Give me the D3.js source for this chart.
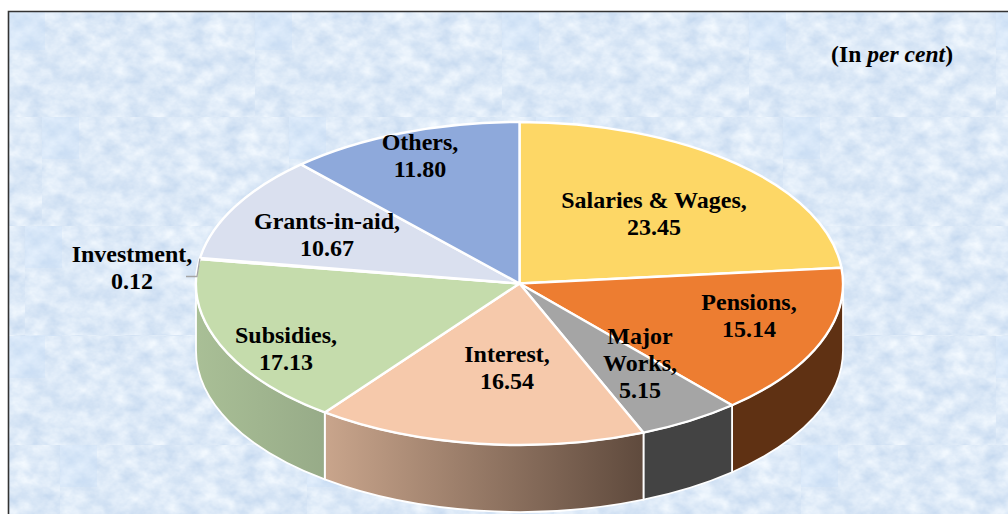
<!DOCTYPE html>
<html><head><meta charset="utf-8">
<script src="https://cdn.jsdelivr.net/npm/d3@7/dist/d3.min.js"></script>
<style>html,body{margin:0;padding:0;background:#fff;overflow:hidden}svg{display:block}
text{font-family:"Liberation Serif","Times New Roman",serif;font-weight:700;fill:#000}</style>
</head><body><svg id="c" width="1008" height="514"></svg>
<script>
// Data
const categories = ["Salaries & Wages","Pensions","Major Works","Interest","Subsidies","Investment","Grants-in-aid","Others"];
const values = [23.45,15.14,5.15,16.54,17.13,0.12,10.67,11.80];
const valueLabels = ["23.45","15.14","5.15","16.54","17.13","0.12","10.67","11.80"];
const unitNote = ["(In ","per cent",")"];
// Presentation
const faceColors = ["#fdd766","#ed7d31","#a5a5a5","#f6c9ab","#c5dcac","#a5a5a5","#dae0ef","#8ea9db"];
const wallStops = [["#5f3113","#5f3113"],["#5f3113","#5f3113"],["#434343","#434343"],["#c9a58c","#5f4a3d"],["#a9bf96","#97ab88"],["#a9bf96","#a9bf96"],["#aab","#aab"],["#67a","#67a"]];
const labelLines = [["Salaries & Wages,"],["Pensions,"],["Major","Works,"],["Interest,"],["Subsidies,"],["Investment,"],["Grants-in-aid,"],["Others,"]];
const labelCentres = [[654,200],[749,302],[640,336],[507,354],[286,335],[132,254],[327,221],[420,142]];
const W=1008,H=514,cx=519.5,cy=283.5,rx=323.5,ry=161.5,depth=67;
const svg=d3.select("#c"), defs=svg.append("defs");

// Background texture
const tf=defs.append("filter").attr("id","mottle").attr("x",0).attr("y",0).attr("width","100%").attr("height","100%").attr("color-interpolation-filters","sRGB");
tf.append("feTurbulence").attr("type","fractalNoise").attr("baseFrequency","0.05 0.065").attr("numOctaves",4).attr("seed",7);
tf.append("feColorMatrix").attr("values","0.24 0 0 0 0.745  0.17 0 0 0 0.83  0.08 0 0 0 0.93  0 0 0 0 1");
const tileW=247,tileH=109;
const rows=[[12,117,8,8],[117,226,42,117],[226,336,25,226],[336,445,8,336],[445,514,60,445]];
rows.forEach((r,i)=>{
  const p=defs.append("pattern").attr("id","tile"+i).attr("patternUnits","userSpaceOnUse")
    .attr("width",tileW).attr("height",tileH).attr("x",r[2]).attr("y",r[3]);
  p.append("rect").attr("width",tileW).attr("height",tileH).attr("filter","url(#mottle)");
  p.append("rect").attr("width",37).attr("height",42).attr("fill","#c8e0fb").attr("opacity",.3);
  svg.append("rect").attr("x",8).attr("y",r[0]).attr("width",W-8).attr("height",r[1]-r[0]).attr("fill",`url(#tile${i})`);
});
svg.append("path").attr("d",`M${W},11.5H8.5V${H}`).attr("fill","none").attr("stroke","#333").attr("stroke-width",1.6);

// Pie
const arcs=d3.pie().sort(null).value(d=>d)(values);
const X=a=>cx+rx*Math.sin(a), Y=a=>cy-ry*Math.cos(a);
const HALF=Math.PI/2;

// Walls (front half only)
arcs.forEach((d,i)=>{
  const a0=Math.max(d.startAngle,HALF), a1=Math.min(d.endAngle,3*HALF);
  if(a1<=a0) return;
  const g=defs.append("linearGradient").attr("id","wall"+i).attr("gradientUnits","userSpaceOnUse")
    .attr("x1",X(a1)).attr("x2",X(a0)).attr("y1",0).attr("y2",0);
  g.append("stop").attr("offset",0).attr("stop-color",wallStops[i][0]);
  g.append("stop").attr("offset",1).attr("stop-color",wallStops[i][1]);
  const dPath=`M${X(a0)},${Y(a0)}A${rx},${ry} 0 0 1 ${X(a1)},${Y(a1)}V${Y(a1)+depth}A${rx},${ry} 0 0 0 ${X(a0)},${Y(a0)+depth}Z`;
  svg.append("path").attr("d",dPath).attr("fill",`url(#wall${i})`).attr("stroke","#fff").attr("stroke-width",1.8).attr("stroke-linejoin","round");
});

// Top faces
const arc=d3.arc().innerRadius(0).outerRadius(rx);
const face=svg.append("g").attr("transform",`translate(${cx},${cy}) scale(1,${ry/rx})`);
face.selectAll("path").data(arcs).join("path").attr("d",arc)
  .attr("fill",(d,i)=>faceColors[i]).attr("stroke","#fff").attr("stroke-width",2.4)
  .attr("stroke-linejoin","round").attr("vector-effect","non-scaling-stroke");

// Leader for Investment
const invA=(arcs[5].startAngle+arcs[5].endAngle)/2;
svg.append("path").attr("d",`M${X(invA)},${Y(invA)}L197,276.5H186`).attr("fill","none").attr("stroke","#a5a5a5").attr("stroke-width",1.3);

// Labels
categories.forEach((c,i)=>{
  const lines=labelLines[i].concat([valueLabels[i]]);
  const t=svg.append("text").attr("text-anchor","middle").attr("font-size",24);
  lines.forEach((l,k)=>t.append("tspan").attr("x",labelCentres[i][0]).attr("y",labelCentres[i][1]+7.5+k*27.4).text(l));
});
const note=svg.append("text").attr("x",953).attr("y",62).attr("text-anchor","end").attr("font-size",23.6);
note.append("tspan").text(unitNote[0]);
note.append("tspan").attr("font-style","italic").text(unitNote[1]);
note.append("tspan").text(unitNote[2]);
</script></body></html>
